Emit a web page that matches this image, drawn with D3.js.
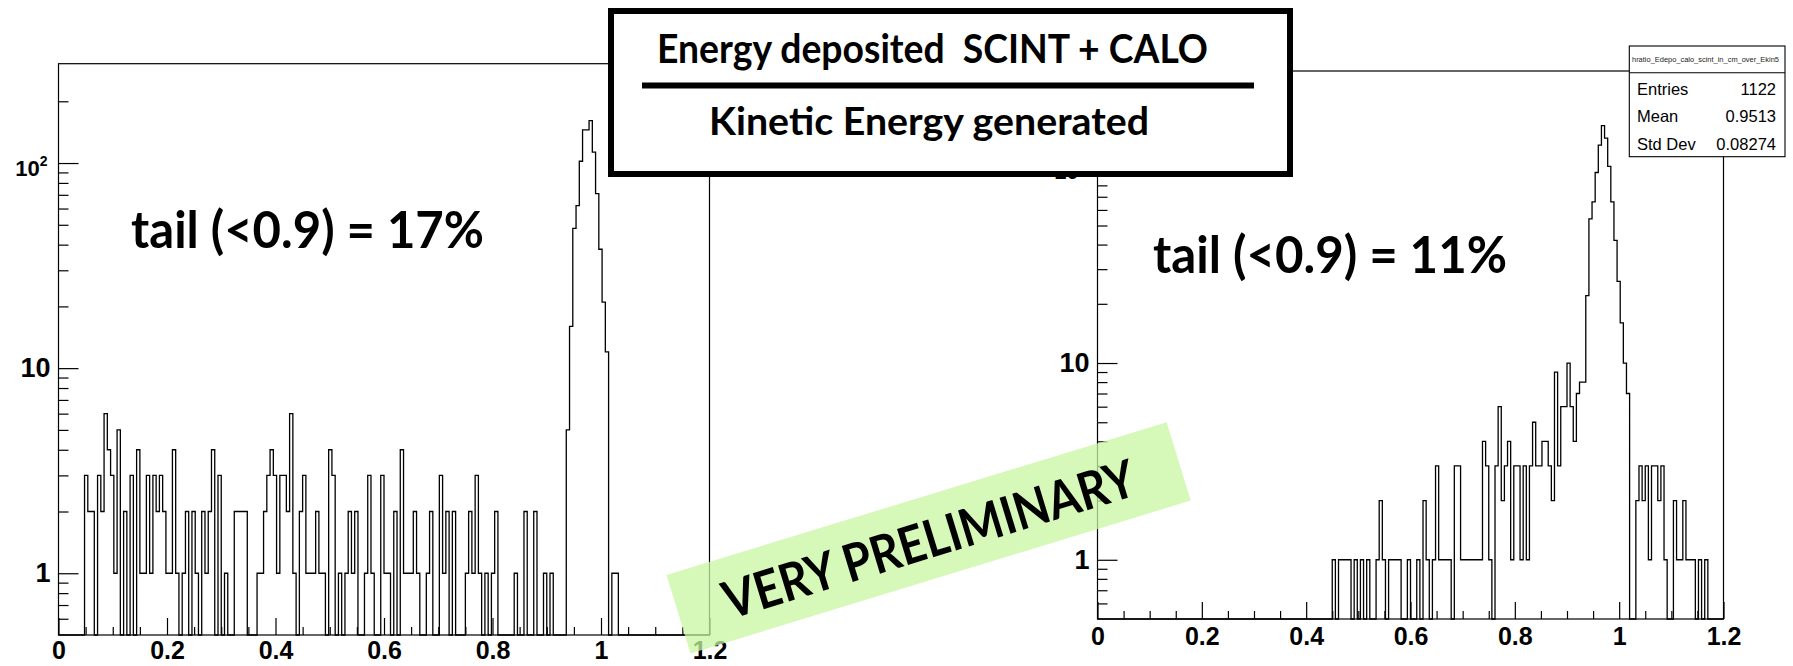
<!DOCTYPE html>
<html>
<head>
<meta charset="utf-8">
<script src="https://cdn.jsdelivr.net/npm/d3@7"></script>
<style>
  body { margin: 0; background: #fff; }
  svg { display: block; }
</style>
</head>
<body>
<svg id="chart" width="1793" height="666"></svg>
<script>
// Histogram binning: 200 bins of width 0.006 over [0, 1.2]
const xDomain = [0, 1.2];
const yDomain = [0.5, 305];
const binWidth = 0.006;

// Bin contents, left panel (bins 0..199)
const countsLeft = [
  0,0,0,0,0,0,0,0,3,2,
  2,0,3,2,6,4,3,1,5,0,
  2,0,3,0,4,1,1,3,1,3,
  2,3,2,1,1,4,1,0,1,2,
  0,2,1,0,2,1,2,4,0,3,
  0,1,0,0,2,2,2,2,0,0,
  0,1,1,2,3,4,3,1,3,3,
  2,6,1,0,2,3,1,1,1,2,
  1,1,0,4,3,0,1,0,1,2,
  1,2,0,0,1,3,1,0,0,3,
  1,1,0,2,0,4,1,1,1,2,
  1,0,0,1,2,0,0,3,1,2,
  0,2,0,0,0,1,2,1,3,1,
  0,1,0,1,2,0,0,0,0,0,
  1,0,0,2,0,0,2,0,0,1,
  0,1,0,0,0,0,5,16,48,62,
  102,145,145,161,113,71,38,21,12,0,
  1,1,0,0,0,0,0,0,0,0,
  0,0,0,0,0,0,0,0,0,0,
  0,0,0,0,0,0,0,0,0,0
];

// Bin contents, right panel (bins 0..199)
const countsRight = [
  0,0,0,0,0,0,0,0,0,0,
  0,0,0,0,0,0,0,0,0,0,
  0,0,0,0,0,0,0,0,0,0,
  0,0,0,0,0,0,0,0,0,0,
  0,0,0,0,0,0,0,0,0,0,
  0,0,0,0,0,0,0,0,0,0,
  0,0,0,0,0,0,0,0,0,0,
  0,0,0,0,0,1,0,1,1,1,
  1,0,1,0,1,0,1,0,0,1,
  2,1,0,1,1,1,1,0,0,1,
  0,0,1,0,2,1,0,1,3,1,
  1,1,1,0,3,3,1,1,1,1,
  1,1,1,4,3,1,0,3,6,2,
  3,4,1,3,3,1,3,1,3,5,
  3,3,4,4,3,2,9,3,6,6,
  10,6,4,7,8,8,22,54,66,93,
  128,161,139,100,66,42,26,16,10,7,
  0,0,2,3,2,3,1,3,3,2,
  3,1,0,0,2,1,1,2,1,1,
  1,0,1,0,1,0,0,0,0,0
];

const xMajorTicks = [0, 0.2, 0.4, 0.6, 0.8, 1, 1.2];
const xMinorTicks = [0.05, 0.1, 0.15, 0.25, 0.3, 0.35, 0.45, 0.5, 0.55, 0.65, 0.7, 0.75,
                     0.85, 0.9, 0.95, 1.05, 1.1, 1.15];
const yLabelTicks = [1, 10];
const yMajorTicks = [1, 10, 100];
const yMinorTicks = [0.6, 0.7, 0.8, 0.9, 2, 3, 4, 5, 6, 7, 8, 9,
                     20, 30, 40, 50, 60, 70, 80, 90, 200];

const tailLabels = ["tail (<0.9) = 17%", "tail (<0.9) = 11%"];
const statsTitle = "hratio_Edepo_calo_scint_in_cm_over_Ekin5";
const statsNames = ["Entries", "Mean", "Std Dev"];
const statsValues = ["1122", "0.9513", "0.08274"];
const titleTop = "Energy deposited\u00a0 SCINT + CALO";
const titleBottom = "Kinetic Energy generated";
const stampText = "VERY PRELIMINARY";

const axisFont = "'Liberation Sans', Arial, Helvetica, sans-serif";
const slideFont = "Lato, 'Open Sans', sans-serif";

const panels = [
  { counts: countsLeft, left: 58.5, right: 709.5, top: 63.7, bottom: 635, labelPad: 6,
    tail: tailLabels[0], tailX: 131, tailY: 248, tailW: 353 },
  { counts: countsRight, left: 1097.5, right: 1723.5, top: 71, bottom: 619, labelPad: 8.5,
    tail: tailLabels[1], tailX: 1153, tailY: 273, tailW: 354 }
];

const svg = d3.select("#chart");

function styleTicks(sel) {
  sel.select(".domain").remove();
  sel.selectAll(".tick line").attr("stroke", "#000").attr("stroke-width", 1.2);
}

panels.forEach(p => {
  const x = d3.scaleLinear(xDomain, [p.left, p.right]);
  const y = d3.scaleLog(yDomain, [p.bottom, p.top]);
  const g = svg.append("g");

  // frame
  g.append("rect")
    .attr("x", x(xDomain[0])).attr("y", y(yDomain[1]))
    .attr("width", x(xDomain[1]) - x(xDomain[0]))
    .attr("height", y(yDomain[0]) - y(yDomain[1]))
    .attr("fill", "none").attr("stroke", "#000").attr("stroke-width", 1.2);

  // histogram outline (step line, empty bins drop to the frame bottom)
  const pts = [[xDomain[0], 0]]
    .concat(p.counts.map((c, i) => [i * binWidth, c]))
    .concat([[xDomain[1], 0]]);
  const line = d3.line()
    .x(d => x(d[0]))
    .y(d => d[1] > 0 ? y(d[1]) : p.bottom)
    .curve(d3.curveStepAfter);
  g.append("path").attr("d", line(pts))
    .attr("fill", "none").attr("stroke", "#000").attr("stroke-width", 1.3);

  // x axis ticks (inside) and labels
  const gx = g.append("g").attr("transform", `translate(0,${p.bottom})`);
  gx.append("g").call(d3.axisBottom(x).tickValues(xMinorTicks).tickSize(-8).tickFormat("")).call(styleTicks);
  gx.append("g").call(d3.axisBottom(x).tickValues(xMajorTicks).tickSize(-17).tickFormat("")).call(styleTicks);
  gx.append("g")
    .call(d3.axisBottom(x).tickValues(xMajorTicks).tickSize(0).tickPadding(p.labelPad).tickFormat(d3.format("~g")))
    .call(styleTicks)
    .selectAll("text")
    .attr("font-family", axisFont).attr("font-weight", "bold")
    .attr("font-size", 25).attr("fill", "#000");

  // y axis ticks (inside) and labels
  const gy = g.append("g").attr("transform", `translate(${p.left},0)`);
  gy.append("g").call(d3.axisLeft(y).tickValues(yMinorTicks).tickSize(-10).tickFormat("")).call(styleTicks);
  gy.append("g").call(d3.axisLeft(y).tickValues(yMajorTicks).tickSize(-20).tickFormat("")).call(styleTicks);
  gy.append("g")
    .call(d3.axisLeft(y).tickValues(yLabelTicks).tickSize(0).tickPadding(8).tickFormat(d3.format("~g")))
    .call(styleTicks)
    .selectAll("text")
    .attr("font-family", axisFont).attr("font-weight", "bold")
    .attr("font-size", 27).attr("fill", "#000");

  // 10^2 label in exponent form
  const exp = gy.append("text")
    .attr("x", -11).attr("y", y(100) + 12.5)
    .attr("text-anchor", "end")
    .attr("font-family", axisFont).attr("font-weight", "bold").attr("fill", "#000");
  exp.append("tspan").attr("font-size", 22).text("10");
  exp.append("tspan").attr("font-size", 14).attr("dy", -10).text("2");

  // tail fraction annotation
  svg.append("text")
    .attr("x", p.tailX).attr("y", p.tailY)
    .attr("textLength", p.tailW).attr("lengthAdjust", "spacingAndGlyphs")
    .attr("font-family", slideFont).attr("font-weight", "bold")
    .attr("font-size", 51).attr("fill", "#000")
    .text(p.tail);
});

// statistics box of the right panel
const stats = svg.append("g");
stats.append("rect")
  .attr("x", 1629.3).attr("y", 46).attr("width", 155.7).attr("height", 110.7)
  .attr("fill", "#fff").attr("stroke", "#000").attr("stroke-width", 1.1);
stats.append("line")
  .attr("x1", 1629.3).attr("x2", 1785).attr("y1", 72.7).attr("y2", 72.7)
  .attr("stroke", "#000").attr("stroke-width", 1.1);
stats.append("text")
  .attr("x", 1632).attr("y", 62)
  .attr("textLength", 147).attr("lengthAdjust", "spacingAndGlyphs")
  .attr("font-family", axisFont).attr("font-size", 6.5).attr("fill", "#222")
  .text(statsTitle);
const rowY = [95, 122.3, 150];
statsNames.forEach((n, i) => {
  stats.append("text").attr("x", 1637).attr("y", rowY[i])
    .attr("font-family", axisFont).attr("font-size", 16.5).attr("fill", "#000").text(n);
  stats.append("text").attr("x", 1776).attr("y", rowY[i]).attr("text-anchor", "end")
    .attr("font-family", axisFont).attr("font-size", 16.5).attr("fill", "#000").text(statsValues[i]);
});

// title box: deposited / generated energy ratio
const tb = svg.append("g");
tb.append("rect")
  .attr("x", 611).attr("y", 11).attr("width", 679).attr("height", 163)
  .attr("fill", "#fff").attr("stroke", "#000").attr("stroke-width", 6);
tb.append("text")
  .attr("x", 657).attr("y", 63)
  .attr("textLength", 551).attr("lengthAdjust", "spacingAndGlyphs")
  .attr("font-family", slideFont).attr("font-weight", "bold")
  .attr("font-size", 41).attr("fill", "#000")
  .text(titleTop);
tb.append("line")
  .attr("x1", 642).attr("x2", 1254).attr("y1", 85.5).attr("y2", 85.5)
  .attr("stroke", "#000").attr("stroke-width", 6);
tb.append("text")
  .attr("x", 709).attr("y", 135)
  .attr("textLength", 440).attr("lengthAdjust", "spacingAndGlyphs")
  .attr("font-family", slideFont).attr("font-weight", "bold")
  .attr("font-size", 39).attr("fill", "#000")
  .text(titleBottom);

// rotated stamp
const stamp = svg.append("g").attr("transform", "translate(928.6,537.8) rotate(-17)");
stamp.append("rect")
  .attr("x", -261.5).attr("y", -41).attr("width", 523).attr("height", 82)
  .attr("fill", "rgb(200,246,160)").attr("fill-opacity", 0.75);
stamp.append("text")
  .attr("x", 0).attr("y", 20).attr("text-anchor", "middle")
  .attr("textLength", 428).attr("lengthAdjust", "spacingAndGlyphs")
  .attr("font-family", slideFont).attr("font-weight", "bold")
  .attr("font-size", 52).attr("fill", "#000")
  .text(stampText);
</script>
</body>
</html>
